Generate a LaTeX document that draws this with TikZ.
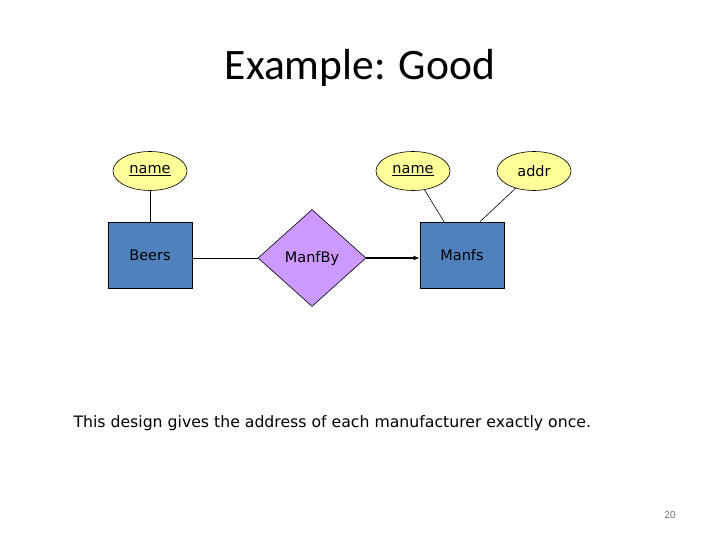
\documentclass[tikz,border=0pt]{standalone}
\usepackage{fontspec}
\setmainfont{DejaVu Sans}
\newfontfamily\titlefont{Carlito}
\usetikzlibrary{shapes.geometric,arrows.meta}
\definecolor{attrfill}{RGB}{255,255,153}
\definecolor{entfill}{RGB}{79,129,189}
\definecolor{relfill}{RGB}{204,153,255}
\definecolor{numgray}{RGB}{120,120,120}
\tikzset{
  attr/.style={ellipse,draw,fill=attrfill,line width=0.6pt,inner sep=0pt,
    minimum width=74pt,minimum height=39pt,font=\fontsize{14.5}{17}\selectfont},
  entity/.style={rectangle,draw,fill=entfill,line width=0.6pt,
    minimum width=84pt,minimum height=66pt,font=\fontsize{14.5}{17}\selectfont},
  rel/.style={diamond,draw,fill=relfill,line width=0.6pt,inner sep=0pt,
    minimum width=108pt,minimum height=97pt,font=\fontsize{14.5}{17}\selectfont},
  link/.style={line width=0.6pt},
}
\begin{document}
\begin{tikzpicture}[x=1pt,y=-1pt,line cap=round,line join=round]
  \useasboundingbox (0,0) rectangle (720,540);
  \node[font=\titlefont\fontsize{43.5}{52}\selectfont] (title) at (360,68) {Example: Good};
  % entities and relationship
  \node[entity] (beers) at (150,255) {Beers};
  \node[entity] (manfs) at (462,255) {Manfs};
  \node[rel] (manfby) at (312,258) {ManfBy};
  % attributes
  \node[attr] (bname) at (150,171) {\underline{name}};
  \node[attr] (mname) at (413,171) {\underline{name}};
  \node[attr] (maddr) at (534,171) {addr};
  \draw[link] (bname) -- (beers);
  \draw[link] (mname) -- (manfs.north west -| 444,0);
  \draw[link] (maddr) -- (manfs.north west -| 480,0);
  \draw[link] (beers.east |- manfby.west) -- (manfby.west);
  \draw[line width=1.4pt,-{Latex[length=6pt,width=5pt]}] (manfby.east) -- (manfby.east -| manfs.west);
  \node[anchor=west,font=\fontsize{15.7}{19}\selectfont] (note) at (70,423)
    {This design gives the address of each manufacturer exactly once.};
  \node[font=\titlefont\fontsize{11}{13}\selectfont,text=numgray] (pagenum) at (670,515) {20};
\end{tikzpicture}
\end{document}
